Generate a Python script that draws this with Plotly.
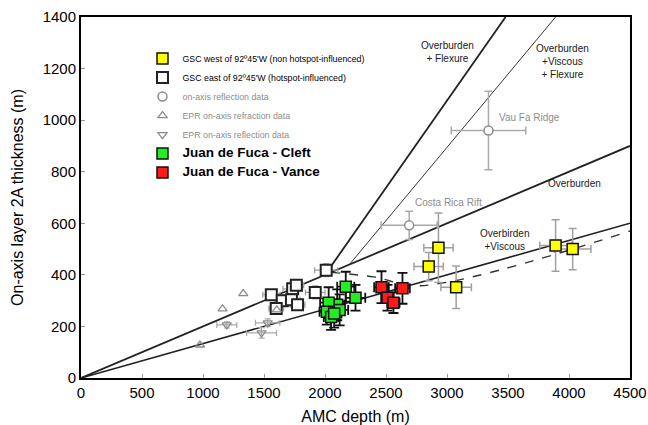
import plotly.graph_objects as go

# ---------------- data ----------------
gsc_west_x = [2930, 2850, 3075, 3890, 4030]
gsc_west_y = [505, 432, 352, 514, 500]
gsc_west_xerr = [120, 120, 125, 130, 150]
gsc_west_yerr = [135, 55, 82, 100, 80]

gsc_east_x = [1560, 1650, 1735, 1765, 1725, 1775, 1920, 2010, 1600]
gsc_east_y = [323, 300, 346, 360, 303, 284, 332, 418, 270]
gsc_east_xerr = [70, 60, 80, 60, 70, 60, 80, 95, 60]
gsc_east_yerr = [20, 20, 25, 20, 20, 20, 25, 25, 20]

refl_x = [3340, 2690]
refl_y = [960, 592]
refl_xerr = [305, 230]
refl_yerr = [152, 55]
refl_labels = ["Vau Fa Ridge", "Costa Rica Rift"]

epr_refr_x = [975, 1160, 1330, 1605]
epr_refr_y = [128, 268, 327, 264]

epr_refl_x = [1195, 1480, 1530]
epr_refl_y = [206, 175, 214]
epr_refl_xerr = [82, 123, 100]
epr_refl_yerr = [12, 20, 15]

cleft_x = [2170, 2250, 2100, 2030, 2015, 2050, 2120, 2075]
cleft_y = [354, 311, 284, 292, 257, 237, 264, 250]
cleft_xerr = [70, 80, 60, 70, 60, 60, 70, 60]
cleft_yerr = [58, 50, 60, 60, 50, 50, 60, 55]

vance_x = [2463, 2635, 2512, 2561]
vance_y = [352, 348, 311, 292]
vance_xerr = [60, 60, 50, 50]
vance_yerr = [62, 60, 50, 40]

# model curves
overburden_x = [0, 4500]
overburden_y = [0, 900]
viscous_x = [0, 4500]
viscous_y = [0, 600]
flexure_x = [2000, 3480]
flexure_y = [400, 1400]
visc_flex_x = [2200, 3890]
visc_flex_y = [440, 1400]
visc_dash_x = [2050, 2400, 2780, 4500]
visc_dash_y = [410, 392, 358, 570]

FONT = "Liberation Sans"
GRAY = "#8c8c8c"

fig = go.Figure()

def err(arr, color, thick, width):
    return dict(type="data", array=arr, visible=True, color=color, thickness=thick, width=width)

# model lines (no legend)
fig.add_trace(go.Scatter(x=overburden_x, y=overburden_y, mode="lines",
                         line=dict(color="#222", width=1.8), showlegend=False, hoverinfo="skip"))
fig.add_trace(go.Scatter(x=viscous_x, y=viscous_y, mode="lines",
                         line=dict(color="#222", width=1.6), showlegend=False, hoverinfo="skip"))
fig.add_trace(go.Scatter(x=flexure_x, y=flexure_y, mode="lines",
                         line=dict(color="#222", width=1.8), showlegend=False, hoverinfo="skip"))
fig.add_trace(go.Scatter(x=visc_flex_x, y=visc_flex_y, mode="lines",
                         line=dict(color="#333", width=1.0), showlegend=False, hoverinfo="skip"))
fig.add_trace(go.Scatter(x=visc_dash_x, y=visc_dash_y, mode="lines",
                         line=dict(color="#333", width=1.4, dash="dash", shape="spline"),
                         showlegend=False, hoverinfo="skip"))

# data series
fig.add_trace(go.Scatter(
    x=gsc_west_x, y=gsc_west_y, mode="markers",
    name="GSC west of 92º45'W (non hotspot-influenced)",
    error_x=err(gsc_west_xerr, "#a0a0a0", 1.5, 4), error_y=err(gsc_west_yerr, "#a0a0a0", 1.5, 4),
    marker=dict(symbol="square", size=11, color="#ffff00", line=dict(color="#111", width=1.5))))
fig.add_trace(go.Scatter(
    x=gsc_east_x, y=gsc_east_y, mode="markers",
    name="GSC east of 92º45'W (hotspot-influenced)",
    error_x=err(gsc_east_xerr, "#a0a0a0", 1.3, 3), error_y=err(gsc_east_yerr, "#a0a0a0", 1.3, 3),
    marker=dict(symbol="square", size=11, color="white", line=dict(color="#222", width=2))))
fig.add_trace(go.Scatter(
    x=refl_x, y=refl_y, mode="markers",
    name=f"<span style='color:{GRAY}'>on-axis reflection data</span>",
    error_x=err(refl_xerr, "#aaaaaa", 1.5, 4), error_y=err(refl_yerr, "#aaaaaa", 1.5, 4),
    marker=dict(symbol="circle", size=9, color="white", line=dict(color=GRAY, width=1.5))))
fig.add_trace(go.Scatter(
    x=epr_refr_x, y=epr_refr_y, mode="markers",
    name=f"<span style='color:{GRAY}'>EPR on-axis refraction data</span>",
    marker=dict(symbol="triangle-up-open", size=8, color=GRAY, line=dict(width=1.3))))
fig.add_trace(go.Scatter(
    x=epr_refl_x, y=epr_refl_y, mode="markers",
    name=f"<span style='color:{GRAY}'>EPR on-axis reflection data</span>",
    error_x=err(epr_refl_xerr, "#aaaaaa", 1.2, 3), error_y=err(epr_refl_yerr, "#aaaaaa", 1.2, 3),
    marker=dict(symbol="triangle-down-open", size=8, color=GRAY, line=dict(width=1.3))))
fig.add_trace(go.Scatter(
    x=cleft_x, y=cleft_y, mode="markers",
    name="<span style='font-size:13.5px'><b>Juan de Fuca - Cleft</b></span>",
    error_x=err(cleft_xerr, "#111", 1.8, 5), error_y=err(cleft_yerr, "#111", 1.8, 5),
    marker=dict(symbol="square", size=11, color="#22ee22", line=dict(color="#111", width=1.5))))
fig.add_trace(go.Scatter(
    x=vance_x, y=vance_y, mode="markers",
    name="<span style='font-size:13.5px'><b>Juan de Fuca - Vance</b></span>",
    error_x=err(vance_xerr, "#111", 1.8, 5), error_y=err(vance_yerr, "#111", 1.8, 5),
    marker=dict(symbol="square", size=11, color="#ff1a1a", line=dict(color="#111", width=1.5))))

# annotations
ann_font = dict(family=FONT, size=10, color="#1a1a1a")
gray_font = dict(family=FONT, size=10, color=GRAY)
annotations = [
    dict(x=3000, y=1264, text="Overburden<br>+ Flexure", font=ann_font, xanchor="center"),
    dict(x=3950, y=1229, text="Overburden<br>+Viscous<br>+ Flexure", font=ann_font, xanchor="center"),
    dict(x=4049, y=755, text="Overburden", font=ann_font, xanchor="center"),
    dict(x=3475, y=537, text="Overbirden<br>+Viscous", font=ann_font, xanchor="center"),
    dict(x=refl_x[0] + 70, y=1011, text=refl_labels[0], font=gray_font, xanchor="left"),
    dict(x=refl_x[1] + 30, y=681, text=refl_labels[1], font=gray_font, xanchor="left"),
]
for a in annotations:
    a.update(xref="x", yref="y", showarrow=False, yanchor="middle")

axis_common = dict(showgrid=False, zeroline=False, showline=True, linecolor="black",
                   linewidth=2, mirror=True, ticks="inside", ticklen=4, tickcolor="#999",
                   automargin=False,
                   tickfont=dict(family=FONT, size=15, color="black"))

fig.update_layout(
    width=648, height=425,
    margin=dict(l=81, r=18, t=17, b=47),
    paper_bgcolor="white", plot_bgcolor="white",
    font=dict(family=FONT, color="black"),
    annotations=annotations,
    legend=dict(x=0.112, y=0.925, xanchor="left", yanchor="top",
                bgcolor="rgba(0,0,0,0)", borderwidth=0,
                font=dict(family=FONT, size=8.8, color="black"),
                itemwidth=30, tracegroupgap=0),
    xaxis=dict(range=[0, 4500], tickvals=[0, 500, 1000, 1500, 2000, 2500, 3000, 3500, 4000, 4500],
               title=dict(text="AMC depth (m)", font=dict(family=FONT, size=16)),
               **axis_common),
    yaxis=dict(range=[0, 1400], tickvals=[0, 200, 400, 600, 800, 1000, 1200, 1400],
               title=dict(text="On-axis layer 2A thickness (m)", font=dict(family=FONT, size=16)),
               **axis_common),
)

fig.write_html("out.html", config={"displayModeBar": False},
               post_script="document.body.style.margin='0';document.body.style.overflow='hidden';")
